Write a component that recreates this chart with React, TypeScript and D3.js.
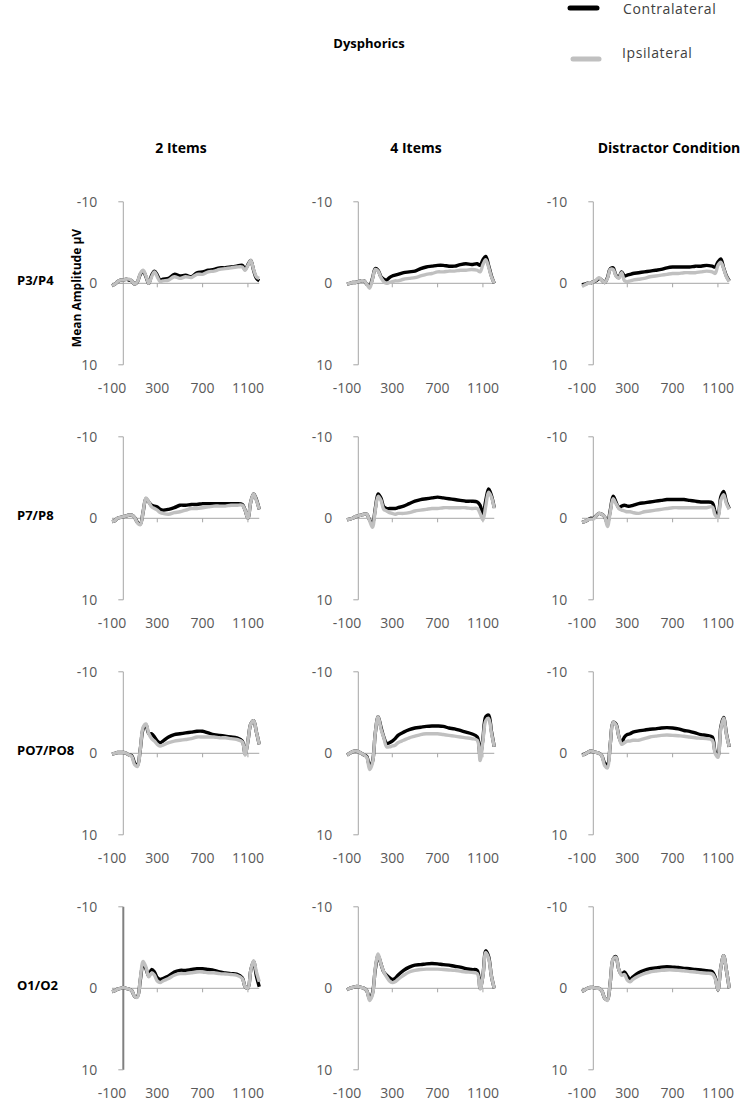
import React from 'react';
import * as d3 from 'd3';

// time points (ms)
const TIMES = [-100,-75,-50,-25,0,25,50,75,100,125,150,175,200,225,250,275,300,325,350,400,450,500,550,600,650,700,750,800,850,900,950,1000,1050,1075,1100,1125,1150,1175,1200];

const ROW_LABELS = ['P3/P4', 'P7/P8', 'PO7/PO8', 'O1/O2'];
const COL_LABELS = ['2 Items', '4 Items', 'Distractor Condition'];
const Y_TICKS = [-10, 0, 10];
const X_TICK_LABELS = [-100, 300, 700, 1100];
const X_TICK_MARKS = [300, 700, 1100];
const TITLE = 'Dysphorics';
const SERIES_NAMES = ['Contralateral', 'Ipsilateral'];
const Y_TITLE = 'Mean Amplitude µV';

// P3/P4
const p3p4_2_contra = [0.3,0.1,-0.2,-0.4,-0.4,-0.5,-0.4,-0.3,0.1,-0.2,-1.1,-1.5,-0.8,0.0,-1.0,-1.5,-1.0,-0.4,-0.5,-0.6,-1.1,-0.9,-1.0,-0.8,-1.3,-1.4,-1.6,-1.7,-1.9,-1.9,-2.0,-2.1,-2.2,-1.7,-2.3,-2.8,-1.6,-0.6,-0.3];
const p3p4_2_ipsi = [0.3,0.1,-0.2,-0.4,-0.4,-0.5,-0.5,-0.3,0.1,-0.2,-1.2,-1.6,-0.9,0.0,-0.8,-1.4,-0.8,-0.2,-0.3,-0.4,-0.8,-0.6,-0.8,-0.7,-1.1,-1.1,-1.4,-1.5,-1.7,-1.8,-1.9,-2.0,-2.0,-1.6,-2.2,-2.8,-1.7,-0.8,-0.6];
const p3p4_4_contra = [0.1,0.0,-0.1,-0.1,-0.2,-0.3,-0.3,0.1,0.3,-0.6,-1.8,-1.6,-0.8,-0.5,-0.4,-0.7,-0.9,-1.0,-1.1,-1.3,-1.4,-1.5,-1.8,-2.0,-2.1,-2.2,-2.2,-2.1,-2.1,-2.3,-2.4,-2.3,-2.4,-2.2,-2.9,-3.3,-2.2,-0.9,0.0];
const p3p4_4_ipsi = [0.1,0.0,-0.1,-0.1,-0.2,-0.3,-0.3,0.1,0.6,-0.5,-1.7,-1.5,-0.7,-0.2,0.0,-0.1,-0.2,-0.3,-0.3,-0.5,-0.6,-0.7,-0.9,-1.1,-1.2,-1.4,-1.4,-1.5,-1.5,-1.6,-1.6,-1.7,-1.6,-1.4,-2.3,-2.9,-2.0,-0.8,0.0];
const p3p4_d_contra = [0.2,0.1,0.0,0.0,-0.2,-0.3,-0.6,-0.4,-0.1,-0.7,-1.8,-1.9,-1.0,-0.7,-1.4,-0.9,-1.0,-1.1,-1.2,-1.3,-1.4,-1.5,-1.6,-1.7,-1.9,-2.0,-2.0,-2.0,-2.0,-2.1,-2.1,-2.2,-2.1,-2.0,-2.6,-3.0,-1.9,-0.9,-0.3];
const p3p4_d_ipsi = [0.4,0.2,0.0,0.0,-0.2,-0.4,-0.7,-0.4,-0.1,-0.6,-1.7,-1.7,-0.9,-0.6,-1.3,-0.3,-0.2,-0.3,-0.4,-0.5,-0.6,-0.8,-0.9,-1.0,-1.1,-1.2,-1.2,-1.3,-1.3,-1.3,-1.4,-1.5,-1.4,-1.2,-2.2,-2.6,-1.8,-0.8,-0.2];

// P7/P8
const p7p8_2_contra = [0.4,0.3,0.0,-0.1,-0.2,-0.3,-0.4,-0.4,-0.1,0.5,0.7,-0.8,-2.4,-2.0,-1.6,-1.5,-1.4,-1.1,-1.0,-1.1,-1.3,-1.6,-1.6,-1.7,-1.7,-1.8,-1.8,-1.8,-1.8,-1.8,-1.8,-1.8,-1.7,-1.0,0.0,-2.0,-3.0,-2.3,-1.1];
const p7p8_2_ipsi = [0.4,0.3,0.0,-0.1,-0.2,-0.3,-0.4,-0.4,-0.1,0.6,0.8,-0.8,-2.5,-2.0,-1.4,-1.2,-1.0,-0.7,-0.6,-0.5,-0.7,-0.8,-1.0,-1.2,-1.2,-1.3,-1.4,-1.5,-1.5,-1.5,-1.6,-1.6,-1.6,-1.0,0.0,-2.0,-3.0,-2.2,-1.1];
const p7p8_4_contra = [0.2,0.1,0.0,-0.2,-0.3,-0.4,-0.5,-0.5,0.2,0.7,-1.2,-3.0,-2.5,-1.4,-1.2,-1.2,-1.2,-1.2,-1.3,-1.5,-1.8,-2.1,-2.3,-2.4,-2.5,-2.6,-2.5,-2.4,-2.3,-2.2,-2.1,-2.1,-2.0,-1.6,-0.4,-2.2,-3.6,-2.8,-1.3];
const p7p8_4_ipsi = [0.2,0.1,0.0,-0.2,-0.3,-0.4,-0.5,-0.5,0.3,1.1,-1.0,-2.7,-2.2,-1.1,-0.9,-0.7,-0.6,-0.5,-0.6,-0.6,-0.7,-0.9,-1.0,-1.1,-1.2,-1.2,-1.3,-1.3,-1.3,-1.3,-1.3,-1.2,-1.2,-0.6,0.2,-1.5,-3.2,-2.6,-1.2];
const p7p8_d_contra = [0.5,0.4,0.2,0.0,0.0,-0.3,-0.6,-0.5,-0.2,0.6,-1.0,-2.7,-2.0,-1.3,-1.5,-1.6,-1.5,-1.5,-1.6,-1.8,-1.9,-2.0,-2.1,-2.2,-2.3,-2.3,-2.3,-2.3,-2.2,-2.1,-2.0,-2.0,-1.9,-0.8,-0.2,-2.6,-3.3,-2.0,-1.2];
const p7p8_d_ipsi = [0.5,0.4,0.2,0.1,0.1,-0.3,-0.6,-0.5,-0.2,1.0,-0.8,-2.4,-1.8,-1.2,-1.0,-0.9,-0.8,-0.8,-0.7,-0.6,-0.8,-0.9,-1.0,-1.1,-1.2,-1.3,-1.3,-1.3,-1.3,-1.3,-1.3,-1.3,-1.4,-0.4,-0.1,-2.2,-2.9,-1.8,-1.1];

// PO7/PO8
const po7po8_2_contra = [0.1,0.0,-0.1,-0.1,-0.1,0.0,0.2,0.3,1.2,1.5,-0.5,-3.0,-3.5,-2.4,-2.4,-2.0,-1.5,-1.3,-1.5,-2.0,-2.3,-2.4,-2.5,-2.6,-2.7,-2.7,-2.5,-2.3,-2.2,-2.1,-2.0,-1.9,-1.5,0.1,-1.5,-3.6,-4.0,-2.6,-1.1];
const po7po8_2_ipsi = [0.1,0.0,-0.1,-0.1,-0.1,0.0,0.2,0.4,1.4,1.6,-0.5,-3.2,-3.6,-2.4,-1.8,-1.5,-1.1,-0.9,-1.0,-1.3,-1.5,-1.6,-1.7,-1.8,-2.0,-2.0,-2.0,-2.0,-1.9,-1.9,-1.8,-1.7,-1.4,0.2,-1.5,-3.6,-4.0,-2.6,-1.1];
const po7po8_4_contra = [0.2,0.0,-0.2,-0.3,-0.2,0.0,0.2,0.4,1.6,1.0,-2.5,-4.5,-3.2,-2.0,-1.2,-1.3,-1.5,-1.8,-2.2,-2.6,-2.9,-3.1,-3.2,-3.3,-3.35,-3.35,-3.3,-3.1,-3.0,-2.8,-2.6,-2.4,-2.0,0.3,-1.8,-4.5,-4.7,-2.7,-0.8];
const po7po8_4_ipsi = [0.2,0.0,-0.2,-0.3,-0.2,0.0,0.2,0.5,2.0,1.2,-2.5,-4.5,-3.0,-1.9,-0.8,-0.8,-0.9,-1.0,-1.3,-1.6,-1.9,-2.1,-2.3,-2.4,-2.4,-2.4,-2.3,-2.2,-2.1,-2.0,-1.9,-1.8,-1.6,0.9,-1.5,-4.0,-4.3,-2.5,-0.8];
const po7po8_d_contra = [0.2,0.1,-0.1,-0.3,-0.2,-0.1,0.0,0.3,1.2,1.4,-1.2,-3.8,-3.6,-2.1,-1.3,-2.0,-2.3,-2.4,-2.6,-2.75,-2.85,-2.95,-3.0,-3.1,-3.15,-3.1,-3.0,-2.8,-2.7,-2.5,-2.3,-2.2,-2.0,-0.2,0.3,-3.2,-4.4,-2.4,-0.8];
const po7po8_d_ipsi = [0.3,0.1,-0.1,-0.3,-0.2,-0.1,0.0,0.3,1.5,1.8,-1.2,-3.8,-3.5,-2.1,-1.1,-1.3,-1.5,-1.5,-1.6,-1.6,-1.8,-2.0,-2.1,-2.2,-2.25,-2.2,-2.15,-2.1,-2.0,-1.9,-1.85,-1.8,-1.6,0.0,0.5,-3.0,-4.3,-2.3,-0.8];

// O1/O2
const o1o2_2_contra = [0.4,0.3,0.1,0.0,-0.1,0.0,0.1,0.3,1.0,1.0,-1.0,-3.0,-2.4,-1.5,-2.3,-2.0,-1.3,-1.1,-1.2,-1.5,-2.0,-2.2,-2.2,-2.3,-2.4,-2.4,-2.3,-2.2,-2.0,-1.9,-1.8,-1.75,-1.3,-0.2,0.0,-2.2,-3.3,-1.5,-0.2];
const o1o2_2_ipsi = [0.4,0.3,0.1,0.0,-0.1,0.0,0.1,0.3,1.0,1.1,-1.2,-3.3,-2.6,-1.4,-1.9,-1.6,-0.9,-0.7,-0.9,-1.2,-1.6,-1.8,-1.8,-1.9,-2.0,-2.0,-1.9,-1.9,-1.8,-1.75,-1.7,-1.6,-1.2,-0.2,0.0,-2.2,-3.4,-2.0,-0.8];
const o1o2_4_contra = [0.2,0.0,-0.1,-0.2,-0.2,-0.1,0.0,0.3,1.3,0.6,-2.3,-4.0,-3.0,-2.0,-1.6,-1.3,-1.1,-1.2,-1.6,-2.2,-2.6,-2.85,-2.9,-3.0,-3.05,-3.0,-2.9,-2.85,-2.7,-2.6,-2.4,-2.3,-2.2,0.0,-1.6,-4.6,-3.9,-1.5,0.0];
const o1o2_4_ipsi = [0.2,0.0,-0.1,-0.2,-0.2,-0.1,0.0,0.3,1.5,0.8,-2.5,-4.2,-3.0,-2.0,-1.4,-0.9,-0.7,-0.8,-1.1,-1.6,-2.0,-2.2,-2.3,-2.35,-2.35,-2.35,-2.3,-2.25,-2.2,-2.1,-2.0,-1.95,-1.8,0.1,-1.5,-4.4,-3.7,-1.5,0.0];
const o1o2_d_contra = [0.4,0.2,0.0,-0.1,-0.1,0.0,0.0,0.3,1.2,1.4,-0.8,-3.6,-3.9,-2.3,-1.7,-2.0,-1.5,-1.1,-1.4,-1.9,-2.2,-2.4,-2.5,-2.6,-2.65,-2.6,-2.55,-2.45,-2.4,-2.3,-2.25,-2.15,-2.05,-1.4,0.2,-2.5,-4.0,-2.2,0.0];
const o1o2_d_ipsi = [0.4,0.2,0.0,-0.1,-0.1,0.0,0.0,0.3,1.2,1.5,-0.8,-3.6,-3.8,-2.3,-1.6,-1.7,-1.0,-0.8,-1.1,-1.5,-1.8,-2.0,-2.1,-2.2,-2.25,-2.25,-2.2,-2.15,-2.05,-2.0,-1.9,-1.85,-1.75,-1.2,0.2,-2.5,-4.0,-2.2,0.0];

const CONTRA = [
  [p3p4_2_contra, p3p4_4_contra, p3p4_d_contra],
  [p7p8_2_contra, p7p8_4_contra, p7p8_d_contra],
  [po7po8_2_contra, po7po8_4_contra, po7po8_d_contra],
  [o1o2_2_contra, o1o2_4_contra, o1o2_d_contra],
];
const IPSI = [
  [p3p4_2_ipsi, p3p4_4_ipsi, p3p4_d_ipsi],
  [p7p8_2_ipsi, p7p8_4_ipsi, p7p8_d_ipsi],
  [po7po8_2_ipsi, po7po8_4_ipsi, po7po8_d_ipsi],
  [o1o2_2_ipsi, o1o2_4_ipsi, o1o2_d_ipsi],
];

const W = 755;
const H = 1103;
const FONT = "'Open Sans', 'Noto Sans', sans-serif";
const COL_X0 = 123.3;
const ROW_Y0 = 283.3;
const STEP = 235;
const PX_PER_MS = 0.1133;
const HALF_H = 81.5;
const AXIS_COLOR = '#a6a6a6';
const LABEL_COLOR = '#595959';
const CONTRA_COLOR = '#000000';
const IPSI_COLOR = '#c0c0c0';
const COL_HEADER_X = [181, 416, 669];

function Panel({ r, c }: { r: number; c: number }) {
  const ox = COL_X0 + STEP * c;
  const oy = ROW_Y0 + STEP * r;
  const x = d3.scaleLinear().domain([-100, 1200]).range([ox - 100 * PX_PER_MS, ox + 1200 * PX_PER_MS]);
  const y = d3.scaleLinear().domain([-10, 10]).range([oy - HALF_H, oy + HALF_H]);
  const line = d3
    .line<number>()
    .x((_, i) => x(TIMES[i]))
    .y((d) => y(d))
    .curve(d3.curveCatmullRom.alpha(0.5));
  const darkAxis = r === 3 && c === 0;
  const x0 = x(0);
  return (
    <g>
      {/* y axis */}
      <line x1={x0} x2={x0} y1={y(-10)} y2={y(10)} stroke={darkAxis ? '#808080' : AXIS_COLOR} strokeWidth={darkAxis ? 2 : 1} />
      {Y_TICKS.map((t) => (
        <g key={t}>
          <line x1={x0 - 5} x2={x0} y1={y(t)} y2={y(t)} stroke={AXIS_COLOR} />
          <text x={x0 - 26} y={y(t)} dy="0.35em" textAnchor="end" fontSize={14} fill={LABEL_COLOR} fontFamily={FONT}>
            {t}
          </text>
        </g>
      ))}
      {/* x axis */}
      <line x1={x(-100)} x2={x(1200)} y1={y(0)} y2={y(0)} stroke={AXIS_COLOR} />
      {X_TICK_MARKS.map((t) => (
        <line key={t} x1={x(t)} x2={x(t)} y1={y(0)} y2={y(0) + 4} stroke={AXIS_COLOR} />
      ))}
      {X_TICK_LABELS.map((t) => (
        <text key={t} x={x(t)} y={y(10) + 28} textAnchor="middle" fontSize={14} fill={LABEL_COLOR} fontFamily={FONT}>
          {t}
        </text>
      ))}
      <path d={line(CONTRA[r][c]) || ''} fill="none" stroke={CONTRA_COLOR} strokeWidth={3.4} strokeLinejoin="round" />
      <path d={line(IPSI[r][c]) || ''} fill="none" stroke={IPSI_COLOR} strokeWidth={3.4} strokeLinejoin="round" />
    </g>
  );
}

export default function App() {
  return (
    <svg width={W} height={H} style={{ position: 'absolute', left: 0, top: 0, background: '#fff' }}>
      <rect x={0} y={0} width={W} height={H} fill="#fff" />
      <text x={369} y={48} textAnchor="middle" fontSize={13} fontWeight="bold" fontFamily={FONT} fill="#000">
        {TITLE}
      </text>
      {/* legend */}
      <line x1={570} x2={597} y1={8} y2={8} stroke={CONTRA_COLOR} strokeWidth={5} strokeLinecap="round" />
      <text x={623} y={14} fontSize={14} letterSpacing={0.6} fontFamily={FONT} fill="#404040">
        {SERIES_NAMES[0]}
      </text>
      <line x1={573} x2={599} y1={59} y2={59} stroke={IPSI_COLOR} strokeWidth={5} strokeLinecap="round" />
      <text x={622} y={58} fontSize={14} letterSpacing={0.6} fontFamily={FONT} fill="#404040">
        {SERIES_NAMES[1]}
      </text>
      {COL_LABELS.map((l, c) => (
        <text key={l} x={COL_HEADER_X[c]} y={153} textAnchor="middle" fontSize={14} fontWeight="bold" fontFamily={FONT} fill="#000">
          {l}
        </text>
      ))}
      {ROW_LABELS.map((l, r) => (
        <text key={l} x={17} y={ROW_Y0 + STEP * r - 3} dy="0.35em" fontSize={13} fontWeight="bold" fontFamily={FONT} fill="#000">
          {l}
        </text>
      ))}
      <text
        transform={`translate(77,288) rotate(-90)`}
        textAnchor="middle"
        dy="0.35em"
        fontSize={12}
        fontWeight="bold"
        fontFamily={FONT}
        fill="#000"
      >
        {Y_TITLE}
      </text>
      {ROW_LABELS.map((_, r) => COL_LABELS.map((__, c) => <Panel key={`${r}-${c}`} r={r} c={c} />))}
    </svg>
  );
}
